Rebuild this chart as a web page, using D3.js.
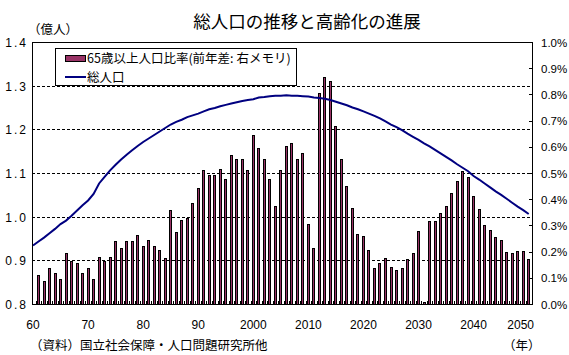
<!DOCTYPE html>
<html>
<head>
<meta charset="utf-8">
<script src="https://cdn.jsdelivr.net/npm/d3@7"></script>
<style>
  html, body { margin: 0; padding: 0; background: #fff; }
  svg { display: block; }
  .jp { font-family: "Noto Sans CJK JP", "Noto Sans", sans-serif; }
  .num { font-family: "Liberation Sans", Arial, sans-serif; }
</style>
</head>
<body>
<script>
// ---------- data ----------
const years = d3.range(1960, 2051);
// total population (億人)
const population = [
  0.934, 0.943, 0.952, 0.962, 0.972, 0.983, 0.991, 1.002, 1.014, 1.026,
  1.037, 1.052, 1.076, 1.091, 1.106, 1.119, 1.131, 1.142, 1.152, 1.162,
  1.171, 1.179, 1.187, 1.195, 1.203, 1.211, 1.217, 1.222, 1.228, 1.232,
  1.236, 1.241, 1.246, 1.249, 1.253, 1.256, 1.259, 1.262, 1.265, 1.267,
  1.269, 1.273, 1.274, 1.276, 1.277, 1.277, 1.278, 1.277, 1.277, 1.276,
  1.275, 1.273, 1.272, 1.270, 1.267, 1.263, 1.259, 1.255, 1.250, 1.246,
  1.241, 1.236, 1.231, 1.225, 1.218, 1.211, 1.205, 1.198, 1.190, 1.183,
  1.176, 1.168, 1.161, 1.153, 1.145, 1.137, 1.129, 1.120, 1.112, 1.104,
  1.093, 1.085, 1.076, 1.067, 1.058, 1.050, 1.041, 1.032, 1.023, 1.015,
  1.006
];
// year-on-year change in share of population aged 65+ (%, right axis)
const agingDiff = [
  null,
  0.107, 0.087, 0.137, 0.115, 0.095, 0.191, 0.163, 0.153, 0.118, 0.134,
  0.095, 0.176, 0.164, 0.176, 0.237, 0.210, 0.237, 0.237, 0.260, 0.218,
  0.242, 0.221, 0.204, 0.174, 0.356, 0.274, 0.317, 0.328, 0.382, 0.439,
  0.511, 0.489, 0.492, 0.515, 0.477, 0.565, 0.550, 0.553, 0.508, 0.645,
  0.592, 0.550, 0.477, 0.374, 0.511, 0.603, 0.614, 0.553, 0.573, 0.305,
  0.210, 0.802, 0.863, 0.851, 0.679, 0.550, 0.447, 0.363, 0.267, 0.256,
  0.204, 0.134, 0.153, 0.174, 0.141, 0.126, 0.134, 0.168, 0.191, 0.275,
  0.005, 0.313, 0.313, 0.344, 0.374, 0.420, 0.466, 0.504, 0.481, 0.412,
  0.359, 0.298, 0.282, 0.252, 0.244, 0.198, 0.191, 0.202, 0.202, 0.168
];
const leftTicks = [0.8, 0.9, 1.0, 1.1, 1.2, 1.3, 1.4];
const rightTicks = [0.0, 0.1, 0.2, 0.3, 0.4, 0.5, 0.6, 0.7, 0.8, 0.9, 1.0];
const xTickYears = [1960, 1970, 1980, 1990, 2000, 2010, 2020, 2030, 2040, 2050];
const xTickLabels = ["60", "70", "80", "90", "2000", "2010", "2020", "2030", "2040", "2050"];

const title = "総人口の推移と高齢化の進展";
const leftUnit = "（億人）";
const xUnit = "（年）";
const source = "（資料）国立社会保障・人口問題研究所他";
const legendBar = "65歳以上人口比率(前年差: 右メモリ)";
const legendLine = "総人口";

// ---------- layout ----------
const W = 569, H = 355;
const plot = { left: 32, top: 42, right: 532, bottom: 304 };
const barColor = "#993366";
const lineColor = "#000080";

const svg = d3.select("body").append("svg").attr("width", W).attr("height", H);

const x = d3.scaleLinear().domain([1960, 2050]).range([33, 528.7]);
const yL = d3.scaleLinear().domain([0.8, 1.4]).range([plot.bottom, plot.top]);
const yR = d3.scaleLinear().domain([0, 1.0]).range([plot.bottom, plot.top]);

// gridlines (dashed)
svg.append("g").selectAll("line")
  .data(leftTicks.filter(d => d > 0.85 && d < 1.35))
  .join("line")
  .attr("x1", plot.left).attr("x2", plot.right)
  .attr("y1", d => Math.round(yL(d)) + 0.5).attr("y2", d => Math.round(yL(d)) + 0.5)
  .attr("stroke", "#000").attr("stroke-width", 1).attr("stroke-dasharray", "3,2");

// bars
const barData = years.map((yr, i) => ({ yr, v: agingDiff[i] })).filter(d => d.v != null);
svg.append("g").selectAll("rect")
  .data(barData)
  .join("rect")
  .attr("x", d => x(d.yr) - 1)
  .attr("width", 2)
  .attr("y", d => yR(d.v))
  .attr("height", d => plot.bottom - yR(d.v))
  .attr("fill", barColor)
  .attr("stroke", "#000")
  .attr("stroke-width", 1)
  .attr("shape-rendering", "crispEdges");

// population line
const line = d3.line().x((d, i) => x(years[i])).y(d => yL(d));
svg.append("path")
  .datum(population)
  .attr("d", line)
  .attr("fill", "none")
  .attr("stroke", lineColor)
  .attr("stroke-width", 2);

// plot frame
svg.append("rect")
  .attr("x", plot.left + 0.5).attr("y", plot.top + 0.5)
  .attr("width", plot.right - plot.left).attr("height", plot.bottom - plot.top)
  .attr("fill", "none").attr("stroke", "#000").attr("stroke-width", 1);

// bottom ticks at category boundaries (inward)
svg.append("g").selectAll("line")
  .data(years.slice(0, -1))
  .join("line")
  .attr("x1", d => Math.round((x(d) + x(d + 1)) / 2) + 0.5)
  .attr("x2", d => Math.round((x(d) + x(d + 1)) / 2) + 0.5)
  .attr("y1", plot.bottom - 3).attr("y2", plot.bottom)
  .attr("stroke", "#000").attr("stroke-width", 1);

// right axis ticks (inward)
svg.append("g").selectAll("line")
  .data(rightTicks)
  .join("line")
  .attr("x1", plot.right - 3).attr("x2", plot.right)
  .attr("y1", d => Math.round(yR(d)) + 0.5).attr("y2", d => Math.round(yR(d)) + 0.5)
  .attr("stroke", "#000").attr("stroke-width", 1);

// left axis labels
svg.append("g").selectAll("text")
  .data(leftTicks)
  .join("text")
  .attr("class", "num")
  .attr("x", 28).attr("y", d => yL(d) + 5)
  .attr("text-anchor", "end")
  .attr("font-size", 12)
  .attr("letter-spacing", "2px")
  .text(d => d.toFixed(1));

// right axis labels
svg.append("g").selectAll("text")
  .data(rightTicks)
  .join("text")
  .attr("class", "num")
  .attr("x", 541).attr("y", d => yR(d) + 4.5)
  .attr("text-anchor", "start")
  .attr("font-size", 11.5)
  .text(d => d.toFixed(1) + "%");

// x axis labels
svg.append("g").selectAll("text")
  .data(xTickYears)
  .join("text")
  .attr("class", "num")
  .attr("x", (d, i) => i === xTickYears.length - 1 ? plot.right + 2 : x(d))
  .attr("y", 329)
  .attr("text-anchor", (d, i) => i === xTickYears.length - 1 ? "end" : "middle")
  .attr("font-size", 12)
  .text((d, i) => xTickLabels[i]);

// title and unit texts
svg.append("text").attr("class", "jp")
  .attr("x", 307).attr("y", 28).attr("text-anchor", "middle")
  .attr("font-size", 17.5).text(title);
svg.append("text").attr("class", "jp")
  .attr("x", 28).attr("y", 34).attr("font-size", 12.5).text(leftUnit);
svg.append("text").attr("class", "jp")
  .attr("x", 503).attr("y", 350).attr("font-size", 12.5).text(xUnit);
svg.append("text").attr("class", "jp")
  .attr("x", 30).attr("y", 350).attr("font-size", 12.5).text(source);

// legend
const lg = svg.append("g");
lg.append("rect")
  .attr("x", 55.5).attr("y", 48.5).attr("width", 241).attr("height", 37)
  .attr("fill", "#fff").attr("stroke", "#000").attr("stroke-width", 1);
lg.append("rect")
  .attr("x", 65.5).attr("y", 55.5).attr("width", 20).attr("height", 6)
  .attr("fill", barColor).attr("stroke", "#000").attr("stroke-width", 1);
lg.append("line")
  .attr("x1", 65).attr("x2", 86).attr("y1", 77).attr("y2", 77)
  .attr("stroke", lineColor).attr("stroke-width", 2);
lg.append("text").attr("class", "jp")
  .attr("x", 87).attr("y", 63).attr("font-size", 12.5).text(legendBar);
lg.append("text").attr("class", "jp")
  .attr("x", 87).attr("y", 81.5).attr("font-size", 12.5).text(legendLine);
</script>
</body>
</html>
